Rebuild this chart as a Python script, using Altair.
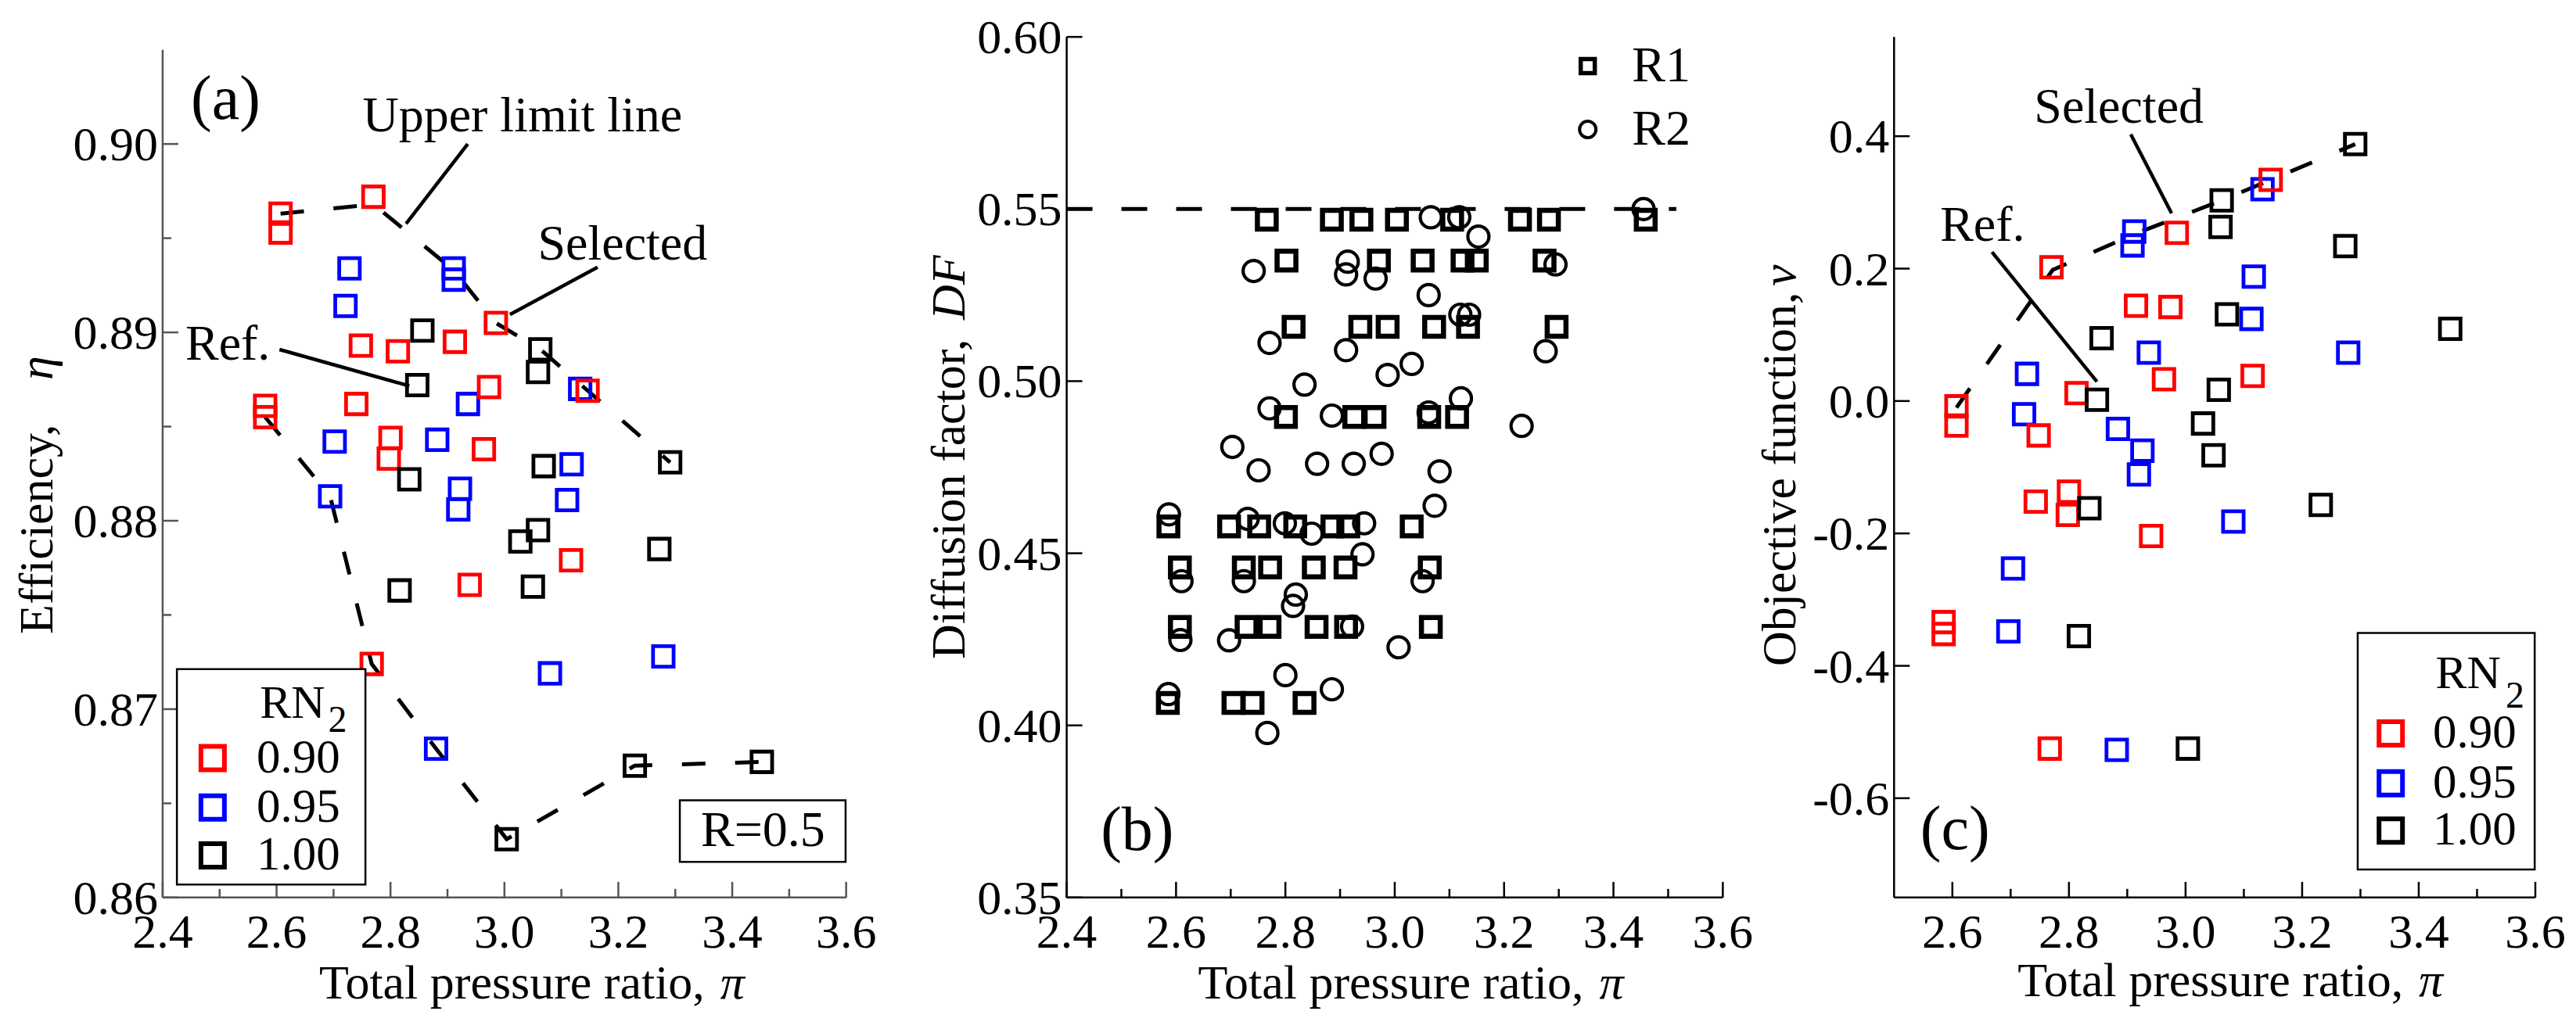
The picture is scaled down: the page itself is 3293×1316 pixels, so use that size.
import altair as alt
import pandas as pd

FONT = "Liberation Serif"
RED, BLUE, BLACK = "#ff0000", "#0000ff", "#000000"
GROUPS = ["0.90", "0.95", "1.00"]

# ---------------- Panel (a): efficiency vs total pressure ratio ----------------
a_red_x = [2.607, 2.607, 2.770, 2.748, 2.813, 2.913, 2.985, 2.740, 2.973, 2.580, 2.580, 2.800, 2.797, 2.964, 3.146, 3.117, 2.939, 2.767]
a_red_y = [0.8963, 0.8953, 0.8972, 0.8893, 0.8890, 0.8895, 0.8905, 0.8862, 0.8871, 0.8861, 0.8855, 0.8844, 0.8833, 0.8838, 0.8869, 0.8779, 0.8766, 0.8724]
a_blue_x = [2.728, 2.721, 2.911, 2.911, 2.702, 2.882, 2.936, 2.694, 2.922, 2.919, 3.118, 3.110, 3.133, 3.080, 3.279, 2.880]
a_blue_y = [0.8934, 0.8914, 0.8934, 0.8928, 0.8842, 0.8843, 0.8862, 0.8813, 0.8817, 0.8806, 0.8830, 0.8811, 0.8870, 0.8719, 0.8728, 0.8679]
a_black_x = [2.856, 2.847, 3.063, 3.059, 2.833, 3.069, 3.291, 3.028, 3.059, 3.272, 2.816, 3.050, 3.004, 3.229, 3.452]
a_black_y = [0.8901, 0.8872, 0.8891, 0.8879, 0.8822, 0.8829, 0.8831, 0.8789, 0.8795, 0.8785, 0.8763, 0.8765, 0.8631, 0.8670, 0.8672]
a_upper_x = [2.607, 2.770, 2.911, 2.985, 3.063, 3.291]
a_upper_y = [0.8963, 0.8968, 0.8933, 0.8905, 0.8891, 0.8831]
a_lower_x = [2.580, 2.694, 2.767, 2.880, 3.004, 3.229, 3.452]
a_lower_y = [0.8855, 0.8813, 0.8724, 0.8679, 0.8631, 0.8670, 0.8672]
a_xmajor = [2.4, 2.6, 2.8, 3.0, 3.2, 3.4, 3.6]
a_xlabels = ["2.4", "2.6", "2.8", "3.0", "3.2", "3.4", "3.6"]
a_xminor = [2.5, 2.7, 2.9, 3.1, 3.3, 3.5]
a_ymajor = [0.86, 0.87, 0.88, 0.89, 0.90]
a_ylabels = ["0.86", "0.87", "0.88", "0.89", "0.90"]
a_yminor = [0.865, 0.875, 0.885, 0.895]

# ---------------- Panel (b): diffusion factor ----------------
b_r1_x = [2.766, 2.885, 2.939, 3.004, 3.105, 3.229, 3.282, 3.459,
          2.802, 2.971, 3.051, 3.124, 3.150, 3.274,
          2.815, 2.937, 2.987, 3.072, 3.134, 3.296,
          2.801, 2.926, 2.963, 3.063, 3.114,
          2.586, 2.697, 2.752, 2.818, 2.886, 2.915, 3.031,
          2.607, 2.724, 2.772, 2.852, 2.910, 3.064,
          2.607, 2.729, 2.771, 2.857, 2.911, 3.066,
          2.585, 2.705, 2.740, 2.835]
b_r1_y = [0.5469, 0.5469, 0.5469, 0.5469, 0.5469, 0.5469, 0.5469, 0.5469,
          0.5350, 0.5350, 0.5350, 0.5350, 0.5350, 0.5350,
          0.5158, 0.5158, 0.5158, 0.5158, 0.5158, 0.5158,
          0.4896, 0.4896, 0.4896, 0.4896, 0.4896,
          0.4578, 0.4578, 0.4578, 0.4578, 0.4578, 0.4578, 0.4578,
          0.4459, 0.4459, 0.4459, 0.4459, 0.4459, 0.4459,
          0.4286, 0.4286, 0.4286, 0.4286, 0.4286, 0.4286,
          0.4065, 0.4065, 0.4065, 0.4065]
b_r2_x = [3.455, 3.066, 3.118, 3.153, 2.742, 2.914, 2.911, 2.965, 3.062, 3.294,
          3.120, 3.136, 2.771, 2.911, 3.276, 3.031, 2.987, 2.835, 2.771, 2.885,
          3.062, 3.121, 3.232, 2.703, 2.751, 2.858, 2.925, 2.976, 3.082, 3.073,
          2.587, 2.731, 2.799, 2.848, 2.944, 2.941, 2.610, 2.724, 3.051, 2.819,
          2.814, 2.697, 2.608, 2.922, 3.007, 2.800, 2.885, 2.586, 2.767]
b_r2_y = [0.5500, 0.5476, 0.5476, 0.5420, 0.5320, 0.5347, 0.5310, 0.5298, 0.5250, 0.5339,
          0.5193, 0.5193, 0.5111, 0.5090, 0.5087, 0.5050, 0.5018, 0.4990, 0.4921, 0.4900,
          0.4909, 0.4950, 0.4870, 0.4809, 0.4741, 0.4760, 0.4760, 0.4789, 0.4738, 0.4638,
          0.4613, 0.4600, 0.4587, 0.4557, 0.4587, 0.4497, 0.4419, 0.4419, 0.4419, 0.4380,
          0.4347, 0.4247, 0.4248, 0.4287, 0.4227, 0.4146, 0.4105, 0.4091, 0.3978]
b_limit_x = [2.4, 3.515]
b_limit_y = [0.55, 0.55]
b_xmajor = [2.4, 2.6, 2.8, 3.0, 3.2, 3.4, 3.6]
b_xlabels = ["2.4", "2.6", "2.8", "3.0", "3.2", "3.4", "3.6"]
b_xminor = [2.5, 2.7, 2.9, 3.1, 3.3, 3.5]
b_ymajor = [0.35, 0.40, 0.45, 0.50, 0.55, 0.60]
b_ylabels = ["0.35", "0.40", "0.45", "0.50", "0.55", "0.60"]

# ---------------- Panel (c): objective function ----------------
c_red_x = [2.770, 2.985, 3.146, 2.915, 2.974, 2.963, 3.115, 2.607, 2.607, 2.813, 2.748, 2.743, 2.800, 2.798, 2.941, 2.585, 2.585, 2.767]
c_red_y = [0.202, 0.254, 0.334, 0.144, 0.142, 0.033, 0.038, -0.008, -0.037, 0.012, -0.052, -0.152, -0.137, -0.172, -0.204, -0.334, -0.352, -0.525]
c_blue_x = [2.912, 2.909, 3.132, 3.117, 3.113, 2.937, 3.279, 2.728, 2.723, 2.884, 2.926, 2.920, 3.082, 2.704, 2.696, 2.882]
c_blue_y = [0.256, 0.235, 0.320, 0.188, 0.124, 0.073, 0.073, 0.041, -0.020, -0.042, -0.075, -0.111, -0.182, -0.253, -0.348, -0.527]
c_black_x = [3.291, 3.062, 3.060, 3.274, 3.071, 2.856, 3.454, 2.848, 3.057, 3.030, 3.048, 2.835, 3.232, 2.817, 3.004]
c_black_y = [0.388, 0.303, 0.263, 0.234, 0.131, 0.095, 0.109, 0.002, 0.017, -0.034, -0.082, -0.162, -0.157, -0.355, -0.525]
c_line_x = [2.607, 2.772, 2.912, 3.062, 3.146, 3.291]
c_line_y = [-0.010, 0.198, 0.252, 0.303, 0.334, 0.388]
c_xmajor = [2.6, 2.8, 3.0, 3.2, 3.4, 3.6]
c_xlabels = ["2.6", "2.8", "3.0", "3.2", "3.4", "3.6"]
c_xminor = [2.7, 2.9, 3.1, 3.3, 3.5]
c_ymajor = [-0.6, -0.4, -0.2, 0.0, 0.2, 0.4]
c_ylabels = ["-0.6", "-0.4", "-0.2", "0.0", "0.2", "0.4"]

# ---------------- layout constants ----------------
H = 1101
WA, WB, WC = 874, 839, 820
SP1, SP2 = 282, 219
TICK_MAJ, TICK_MIN = 20, 11
LBL = 62

cscale = alt.Scale(domain=GROUPS, range=[RED, BLUE, BLACK])


def groups_df(rx, ry, bx, by, kx, ky):
    parts = [pd.DataFrame({"x": bx, "y": by, "g": GROUPS[1]}),
             pd.DataFrame({"x": rx, "y": ry, "g": GROUPS[0]}),
             pd.DataFrame({"x": kx, "y": ky, "g": GROUPS[2]})]
    return pd.concat(parts, ignore_index=True)


def xlabels(vals, labels, sx):
    return alt.Chart(pd.DataFrame({"v": vals, "t": labels})).mark_text(
        font=FONT, fontSize=LBL, align="center", baseline="alphabetic", color="black").encode(
        x=alt.X("v:Q", scale=sx, axis=None), y=alt.value(H + 64), text="t:N")


def ylabels(vals, labels, sy):
    return alt.Chart(pd.DataFrame({"v": vals, "t": labels})).mark_text(
        font=FONT, fontSize=LBL, align="right", baseline="alphabetic", dy=21, color="black").encode(
        y=alt.Y("v:Q", scale=sy, axis=None), x=alt.value(-6), text="t:N")


def tick_x(vals, sx, L, color):
    return alt.Chart(pd.DataFrame({"v": vals})).mark_rule(color=color, strokeWidth=2.5).encode(
        x=alt.X("v:Q", scale=sx, axis=None), y=alt.value(H), y2=alt.value(H - L))


def tick_y(vals, sy, L, color):
    return alt.Chart(pd.DataFrame({"v": vals})).mark_rule(color=color, strokeWidth=2.5).encode(
        y=alt.Y("v:Q", scale=sy, axis=None), x=alt.value(0), x2=alt.value(L))


def xdomain(x0, x1, sx, color):
    return alt.Chart(pd.DataFrame({"a": [x0], "b": [x1]})).mark_rule(color=color, strokeWidth=2.5).encode(
        x=alt.X("a:Q", scale=sx, axis=None), x2="b:Q", y=alt.value(H))


def ydomain(y0, y1, sy, color):
    return alt.Chart(pd.DataFrame({"a": [y0], "b": [y1]})).mark_rule(color=color, strokeWidth=2.5).encode(
        y=alt.Y("a:Q", scale=sy, axis=None), y2="b:Q", x=alt.value(0))


def dtext(x, y, txt, sx, sy, size=64, align="left", baseline="alphabetic", style="normal"):
    return alt.Chart(pd.DataFrame({"x": [x], "y": [y], "t": [txt]})).mark_text(
        font=FONT, fontSize=size, align=align, baseline=baseline, fontStyle=style, color="black").encode(
        x=alt.X("x:Q", scale=sx, axis=None), y=alt.Y("y:Q", scale=sy, axis=None), text="t:N")


def ptext(px, py, txt, size=62, angle=0, style="normal"):
    return alt.Chart(pd.DataFrame({"t": [txt]})).mark_text(
        font=FONT, fontSize=size, align="left", baseline="alphabetic", angle=angle,
        fontStyle=style, color="black").encode(x=alt.value(px), y=alt.value(py), text="t:N")


def leader(x0, y0, x1, y1, sx, sy):
    return alt.Chart(pd.DataFrame({"x": [x0], "y": [y0], "x2": [x1], "y2": [y1]})).mark_rule(
        color="black", strokeWidth=4.5).encode(
        x=alt.X("x:Q", scale=sx, axis=None), y=alt.Y("y:Q", scale=sy, axis=None), x2="x2:Q", y2="y2:Q")


def dashed(xs, ys, sx, sy, dash=(30, 38)):
    d = pd.DataFrame({"x": xs, "y": ys, "o": list(range(len(xs)))})
    return alt.Chart(d).mark_line(color="black", strokeWidth=5, strokeDash=list(dash)).encode(
        x=alt.X("x:Q", scale=sx, axis=None), y=alt.Y("y:Q", scale=sy, axis=None), order="o:Q")


def box(x0, x1, y0, y1, sx, sy):
    return alt.Chart(pd.DataFrame({"x": [x0], "x2": [x1], "y": [y0], "y2": [y1]})).mark_rect(
        fill="white", stroke="black", strokeWidth=2.5).encode(
        x=alt.X("x:Q", scale=sx, axis=None), x2="x2:Q", y=alt.Y("y:Q", scale=sy, axis=None), y2="y2:Q")


def legend_rn(x_sq, x_txt, ys, x_rn, y_rn, x_sub, y_sub, sx, sy):
    d = pd.DataFrame({"x": [x_sq] * 3, "y": ys, "g": GROUPS})
    sym = alt.Chart(d).mark_point(shape="square", filled=False, size=900, strokeWidth=6, opacity=1).encode(
        x=alt.X("x:Q", scale=sx, axis=None), y=alt.Y("y:Q", scale=sy, axis=None),
        color=alt.Color("g:N", scale=cscale, legend=None))
    layers = [sym]
    for yv, g in zip(ys, GROUPS):
        layers.append(dtext(x_txt, yv, g, sx, sy, size=61, baseline="middle"))
    layers.append(dtext(x_rn, y_rn, "RN", sx, sy, size=60))
    layers.append(dtext(x_sub, y_sub, "2", sx, sy, size=48))
    return layers


# ================= Panel (a) =================
sxa = alt.Scale(domain=[2.4, 3.6], nice=False, zero=False)
sya = alt.Scale(domain=[0.86, 0.905685], nice=False, zero=False)
GA = "#555555"
a_df = groups_df(a_red_x, a_red_y, a_blue_x, a_blue_y, a_black_x, a_black_y)
scatter_a = alt.Chart(a_df).mark_point(shape="square", filled=False, size=690, strokeWidth=4.8, opacity=1).encode(
    x=alt.X("x:Q", scale=sxa, axis=None),
    y=alt.Y("y:Q", scale=sya, axis=None),
    color=alt.Color("g:N", scale=cscale, legend=None))

panel_a = alt.layer(
    xdomain(2.4, 3.6, sxa, GA), ydomain(0.86, 0.905, sya, GA),
    tick_x(a_xmajor, sxa, TICK_MAJ, GA), tick_x(a_xminor, sxa, TICK_MIN, GA),
    tick_y(a_ymajor, sya, TICK_MAJ, GA), tick_y(a_yminor, sya, TICK_MIN, GA),
    xlabels(a_xmajor, a_xlabels, sxa), ylabels(a_ymajor, a_ylabels, sya),
    dashed(a_upper_x, a_upper_y, sxa, sya), dashed(a_lower_x, a_lower_y, sxa, sya),
    scatter_a,
    box(2.425, 2.756, 0.86069, 0.87212, sxa, sya),
    *legend_rn(2.4878, 2.565, [0.8674, 0.86478, 0.86224], 2.5709, 0.86954, 2.6906, 0.86878, sxa, sya),
    box(3.308, 3.599, 0.86189, 0.86516, sxa, sya),
    dtext(3.454, 0.86351, "R=0.5", sxa, sya, size=64, align="center", baseline="middle"),
    dtext(2.5105, 0.90234, "(a)", sxa, sya, size=80, align="center", baseline="middle"),
    dtext(2.751, 0.90069, "Upper limit line", sxa, sya),
    leader(2.9356, 0.9000, 2.8274, 0.89577, sxa, sya),
    dtext(3.0587, 0.89387, "Selected", sxa, sya),
    leader(3.1636, 0.89346, 3.0097, 0.89095, sxa, sya),
    dtext(2.4399, 0.88854, "Ref.", sxa, sya),
    leader(2.6051, 0.88909, 2.8330, 0.88716, sxa, sya),
    ptext(-141, 764, "Efficiency,", angle=270),
    ptext(-141, 439, "\u03b7", angle=270, style="italic"),
    ptext(200, 1230, "Total pressure ratio,"),
    ptext(713, 1230, "\u03c0", style="italic"),
).properties(width=WA, height=H)

# ================= Panel (b) =================
sxb = alt.Scale(domain=[2.4, 3.6], nice=False, zero=False)
syb = alt.Scale(domain=[0.35, 0.60], nice=False, zero=False)
r1_df = pd.DataFrame({"x": b_r1_x, "y": b_r1_y})
r2_df = pd.DataFrame({"x": b_r2_x, "y": b_r2_y})
sq_b = alt.Chart(r1_df).mark_point(shape="square", filled=False, size=576, strokeWidth=6.5, color="black", opacity=1).encode(
    x=alt.X("x:Q", scale=sxb, axis=None), y=alt.Y("y:Q", scale=syb, axis=None))
ci_b = alt.Chart(r2_df).mark_point(shape="circle", filled=False, size=729, strokeWidth=4.2, color="black", opacity=1).encode(
    x=alt.X("x:Q", scale=sxb, axis=None), y=alt.Y("y:Q", scale=syb, axis=None))
leg_b = pd.DataFrame({"x": [3.353], "y": [0.5915]})
leg_b2 = pd.DataFrame({"x": [3.353], "y": [0.5731]})
panel_b = alt.layer(
    xdomain(2.4, 3.6, sxb, BLACK), ydomain(0.35, 0.60, syb, BLACK),
    tick_x(b_xmajor, sxb, TICK_MAJ, BLACK), tick_x(b_xminor, sxb, TICK_MIN, BLACK),
    tick_y(b_ymajor, syb, TICK_MAJ, BLACK),
    xlabels(b_xmajor, b_xlabels, sxb), ylabels(b_ymajor, b_ylabels, syb),
    dashed(b_limit_x, b_limit_y, sxb, syb, dash=(33, 37)),
    sq_b, ci_b,
    alt.Chart(leg_b).mark_point(shape="square", filled=False, size=324, strokeWidth=5.5, color="black", opacity=1).encode(
        x=alt.X("x:Q", scale=sxb, axis=None), y=alt.Y("y:Q", scale=syb, axis=None)),
    alt.Chart(leg_b2).mark_point(shape="circle", filled=False, size=441, strokeWidth=4, color="black", opacity=1).encode(
        x=alt.X("x:Q", scale=sxb, axis=None), y=alt.Y("y:Q", scale=syb, axis=None)),
    dtext(3.434, 0.5915, "R1", sxb, syb, size=64, baseline="middle"),
    dtext(3.434, 0.5731, "R2", sxb, syb, size=64, baseline="middle"),
    dtext(2.529, 0.3692, "(b)", sxb, syb, size=80, align="center", baseline="middle"),
    ptext(-131, 796, "Diffusion factor,", angle=270),
    ptext(-131, 362, "DF", angle=270, style="italic"),
    ptext(168, 1230, "Total pressure ratio,"),
    ptext(681, 1230, "\u03c0", style="italic"),
).properties(width=WB, height=H)

# ================= Panel (c) =================
sxc = alt.Scale(domain=[2.5, 3.6], nice=False, zero=False)
syc = alt.Scale(domain=[-0.75, 0.55], nice=False, zero=False)
c_df = groups_df(c_red_x, c_red_y, c_blue_x, c_blue_y, c_black_x, c_black_y)
scatter_c = alt.Chart(c_df).mark_point(shape="square", filled=False, size=690, strokeWidth=4.8, opacity=1).encode(
    x=alt.X("x:Q", scale=sxc, axis=None),
    y=alt.Y("y:Q", scale=syc, axis=None),
    color=alt.Color("g:N", scale=cscale, legend=None))
panel_c = alt.layer(
    xdomain(2.5, 3.6, sxc, BLACK), ydomain(-0.75, 0.55, syc, BLACK),
    tick_x(c_xmajor, sxc, TICK_MAJ, BLACK), tick_x(c_xminor, sxc, TICK_MIN, BLACK),
    tick_y(c_ymajor, syc, TICK_MAJ, BLACK),
    xlabels(c_xmajor, c_xlabels, sxc), ylabels(c_ymajor, c_ylabels, syc),
    dashed(c_line_x, c_line_y, sxc, syc),
    scatter_c,
    box(3.2953, 3.5989, -0.7076, -0.3505, sxc, syc),
    *legend_rn(3.352, 3.4243, [-0.5022, -0.5775, -0.6489], 3.4288, -0.4337, 3.549, -0.4630, sxc, syc),
    dtext(2.6046, -0.6489, "(c)", sxc, syc, size=80, align="center", baseline="middle"),
    dtext(2.7403, 0.4205, "Selected", sxc, syc),
    leader(2.906, 0.4029, 2.976, 0.2836, sxc, syc),
    dtext(2.579, 0.2415, "Ref.", sxc, syc),
    leader(2.668, 0.2249, 2.848, 0.0292, sxc, syc),
    ptext(-126, 805, "Objective function,", angle=270),
    ptext(-126, 319, "\u03bd", angle=270, style="italic"),
    ptext(158, 1227, "Total pressure ratio,"),
    ptext(671, 1227, "\u03c0", style="italic"),
).properties(width=WC, height=H)


def spacer(w):
    return alt.Chart(pd.DataFrame({"v": [0]})).mark_point(opacity=0).encode(
        x=alt.value(0), y=alt.value(0)).properties(width=w, height=H)


chart = alt.hconcat(panel_a, spacer(SP1), panel_b, spacer(SP2), panel_c, spacing=0, bounds="flush").configure_view(
    stroke=None).properties(padding={"left": 9, "top": 10, "right": 5, "bottom": 5}, background="white")

chart.save("out.html", embed_options={"renderer": "svg", "actions": False})
